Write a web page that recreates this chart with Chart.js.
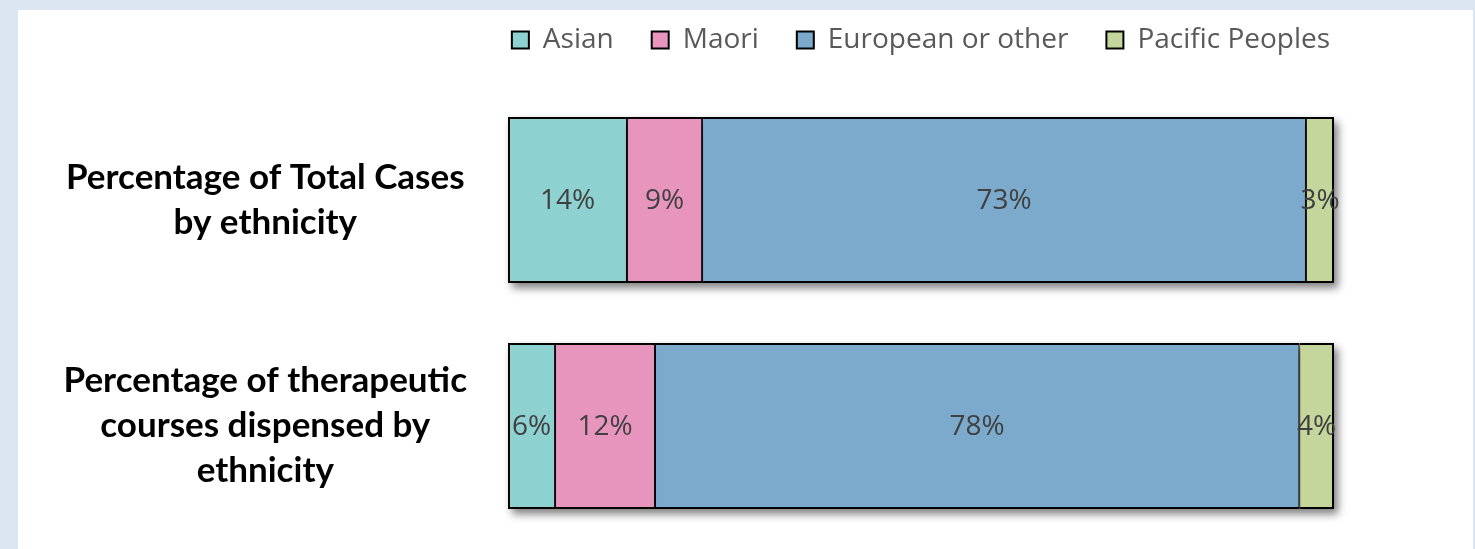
<!DOCTYPE html>
<html>
<head>
<meta charset="utf-8">
<script src="https://cdn.jsdelivr.net/npm/chart.js@4/dist/chart.umd.min.js"></script>
<style>
  html, body { margin: 0; padding: 0; }
  body { width: 1475px; height: 549px; background: #dce6f2; position: relative; overflow: hidden; }
  #panel { position: absolute; left: 18px; top: 10px; width: 1455px; height: 539px; background: #ffffff; }
</style>
</head>
<body>
<div id="panel"><canvas id="ethnicity-chart" width="1455" height="539"></canvas></div>
<script>
// categories (y axis) and series values, percent of each bar
const categories = [
  ['Percentage of Total Cases', 'by ethnicity'],
  ['Percentage of therapeutic', 'courses dispensed by', 'ethnicity']
];
const seriesNames = ['Asian', 'Maori', 'European or other', 'Pacific Peoples'];
const asianValues = [14.4, 5.7];
const maoriValues = [9.1, 12.1];
const europeanValues = [73.1, 78.0];
const pacificValues = [3.4, 4.2];
const seriesColors = ['#8dd1d0', '#e895bd', '#7caacc', '#c4d69c'];

const allValues = [asianValues, maoriValues, europeanValues, pacificValues];

Chart.defaults.font.family = "'Open Sans', sans-serif";

function borderFor(i) {
  return {
    top: 2,
    bottom: 2,
    left: i === 0 ? 2 : 1,
    right: i === allValues.length - 1 ? 2 : 1
  };
}

const datasets = seriesNames.map((name, i) => ({
  label: name,
  data: allValues[i],
  backgroundColor: seriesColors[i],
  borderColor: '#000000',
  borderWidth: borderFor(i),
  borderSkipped: false,
  barPercentage: 0.735,
  categoryPercentage: 1
}));

// soft drop shadow behind each whole bar
const barShadow = {
  id: 'barShadow',
  beforeDatasetsDraw(chart) {
    const ctx = chart.ctx;
    const first = chart.getDatasetMeta(0);
    const last = chart.getDatasetMeta(chart.data.datasets.length - 1);
    ctx.save();
    ctx.filter = 'blur(4px)';
    ctx.fillStyle = 'rgba(0, 0, 0, 0.5)';
    first.data.forEach((bar, j) => {
      const end = last.data[j];
      ctx.fillRect(bar.base + 4, bar.y - bar.height / 2 + 5, end.x - bar.base, bar.height);
    });
    ctx.restore();
  }
};

// percent labels in the middle of each segment
const segmentLabels = {
  id: 'segmentLabels',
  afterDatasetsDraw(chart) {
    const ctx = chart.ctx;
    ctx.save();
    ctx.font = "28px 'Open Sans', sans-serif";
    ctx.fillStyle = '#404040';
    ctx.textAlign = 'center';
    ctx.textBaseline = 'middle';
    chart.data.datasets.forEach((ds, i) => {
      const meta = chart.getDatasetMeta(i);
      meta.data.forEach((bar, j) => {
        const x = (bar.x + bar.base) / 2;
        ctx.fillText(Math.round(ds.data[j]) + '%', x, bar.y + 1);
      });
    });
    ctx.restore();
  }
};

// keep the legend on one row, fixed height, centred over the bars
const legendFit = {
  id: 'legendFit',
  beforeInit(chart) {
    const fit = chart.legend.fit;
    chart.legend.fit = function() {
      const mw = this.maxWidth;
      this.maxWidth = 3000;
      fit.call(this);
      this.maxWidth = mw;
      this.width = mw;
      this.height = 99;
    };
  },
  afterLayout(chart) {
    const lg = chart.legend;
    lg.left -= 80;
    lg.right += 80;
    lg.width += 160;
  }
};

new Chart(document.getElementById('ethnicity-chart'), {
  type: 'bar',
  data: {
    labels: categories,
    datasets: datasets
  },
  options: {
    indexAxis: 'y',
    responsive: false,
    animation: false,
    layout: {
      padding: { top: -22, right: 139, bottom: 10, left: 0 }
    },
    plugins: {
      legend: {
        position: 'top',
        fullSize: false,
        labels: {
          boxWidth: 17,
          boxHeight: 17,
          padding: 38,
          color: '#595959',
          font: { size: 28 },
          generateLabels(chart) {
            const items = Chart.defaults.plugins.legend.labels.generateLabels(chart);
            items.forEach(item => { item.lineWidth = 2; });
            return items;
          }
        }
      },
      tooltip: { enabled: false }
    },
    scales: {
      x: {
        stacked: true,
        display: false,
        min: 0,
        max: 100
      },
      y: {
        stacked: true,
        grid: { display: false, drawTicks: false },
        border: { display: false },
        ticks: {
          crossAlign: 'center',
          padding: 41,
          color: '#000000',
          font: { family: "Lato, sans-serif", size: 35, weight: 'bold', lineHeight: 1.29 }
        },
        afterFit(scale) {
          scale.width = 490;
          scale.paddingTop = 0;
          scale.paddingBottom = 0;
        }
      }
    }
  },
  plugins: [barShadow, segmentLabels, legendFit]
});
</script>
</body>
</html>
